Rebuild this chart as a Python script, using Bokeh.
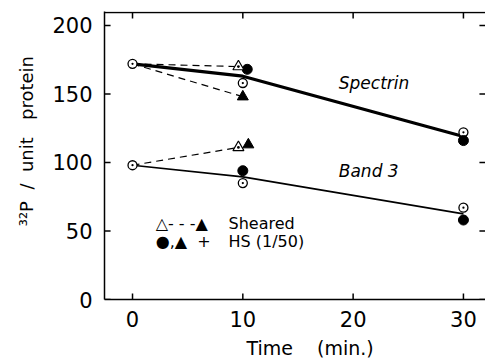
from bokeh.plotting import figure
from bokeh.models import Label, FixedTicker, Range1d
from bokeh.embed import file_html
from bokeh.resources import INLINE

# ---- data ----
time_ctrl = [0, 10, 30]
spectrin_ctrl = [172, 158, 122]          # open circles
spectrin_hs_t = [10.4, 30]
spectrin_hs = [168, 116]                 # filled circles (+ HS)
spectrin_shear_t = [9.6]
spectrin_shear = [170]                   # open triangle (sheared)
spectrin_shear_hs_t = [10.0]
spectrin_shear_hs = [148]                # filled triangle (sheared + HS)

band3_ctrl = [98, 85, 67]
band3_hs_t = [10.0, 30]
band3_hs = [94, 58]
band3_shear_t = [9.6]
band3_shear = [111]
band3_shear_hs_t = [10.5]
band3_shear_hs = [113]

x_ticks = [0, 10, 20, 30]
y_ticks = [0, 50, 100, 150, 200]

# fitted lines: start value, then mean of control and HS at 10 and 30 min
spectrin_line = [spectrin_ctrl[0]] + [(a + b) / 2 for a, b in zip(spectrin_ctrl[1:], spectrin_hs)]
band3_line = [band3_ctrl[0]] + [(a + b) / 2 for a, b in zip(band3_ctrl[1:], band3_hs)]

FONT = "DejaVu Sans"
NB = "\u00a0"

X0, X1 = -2.54, 32.0          # plot box, left / right (data units)
Y0, Y_TOP, Y1 = 0.0, 209.4, 210.2   # bottom, top edge of the box, range end
TX, TY = 0.55, 4.4            # inward tick length in data units (~6 px)

p = figure(width=485, height=361, output_backend="svg", toolbar_location=None, title=None,
           x_range=Range1d(X0, X1), y_range=Range1d(Y0, Y1),
           min_border_left=104, min_border_right=0, min_border_top=11, min_border_bottom=60)
p.outline_line_color = None
p.grid.visible = False

for ax in (p.xaxis[0], p.yaxis[0]):
    ax.major_tick_in = 0
    ax.major_tick_out = 0
    ax.minor_tick_line_color = None
    ax.axis_line_width = 1.5
    ax.axis_line_color = "black"
    ax.major_label_text_font = FONT
    ax.major_label_text_font_size = "21px"
    ax.major_label_text_color = "black"
    ax.axis_label_text_font = FONT
    ax.axis_label_text_font_style = "normal"
    ax.axis_label_text_color = "black"
p.xaxis[0].ticker = FixedTicker(ticks=x_ticks)
p.yaxis[0].ticker = FixedTicker(ticks=y_ticks)
p.xaxis[0].major_label_standoff = 11
p.yaxis[0].major_label_standoff = 12

# axis titles (leading spaces shift the centred text to where the reference has it)
p.xaxis[0].axis_label = NB * 5 + "Time" + NB * 4 + "(min.)"
p.xaxis[0].axis_label_text_font_size = "19px"
p.xaxis[0].axis_label_standoff = 7
p.yaxis[0].axis_label = (NB * 5 + "\u00b3\u00b2P" + NB * 2 + "/" + NB * 2 + "unit"
                         + NB * 3 + "protein")
p.yaxis[0].axis_label_text_font_size = "18px"
p.yaxis[0].axis_label_standoff = 12

# box: top edge and inward ticks on all four sides
p.line([X0, X1], [Y_TOP, Y_TOP], line_width=1.5, color="black")
p.segment(x0=x_ticks, y0=[Y0] * len(x_ticks), x1=x_ticks, y1=[Y0 + TY] * len(x_ticks),
          line_width=1.5, color="black")
p.segment(x0=x_ticks, y0=[Y_TOP] * len(x_ticks), x1=x_ticks, y1=[Y_TOP - TY] * len(x_ticks),
          line_width=1.5, color="black")
p.segment(x0=[X0] * len(y_ticks), y0=y_ticks, x1=[X0 + TX] * len(y_ticks), y1=y_ticks,
          line_width=1.5, color="black")
p.segment(x0=[X1] * len(y_ticks), y0=y_ticks, x1=[X1 - TX] * len(y_ticks), y1=y_ticks,
          line_width=1.5, color="black")

# dashed lines to sheared points
p.line([time_ctrl[0], spectrin_shear_t[0]], [spectrin_ctrl[0], spectrin_shear[0]],
       line_dash="7 5", line_width=1.2, color="black")
p.line([time_ctrl[0], spectrin_shear_hs_t[0]], [spectrin_ctrl[0], spectrin_shear_hs[0]],
       line_dash="7 5", line_width=1.2, color="black")
p.line([time_ctrl[0], band3_shear_t[0]], [band3_ctrl[0], band3_shear[0]],
       line_dash="7 5", line_width=1.2, color="black")

# solid lines
p.line(time_ctrl, spectrin_line, line_width=3.2, color="black")
p.line(time_ctrl, band3_line, line_width=1.6, color="black")

# markers
for xs, ys in ((time_ctrl, spectrin_ctrl), (time_ctrl, band3_ctrl)):
    p.scatter(xs, ys, marker="circle_dot", size=9, fill_color="white",
              line_color="black", line_width=1.3)
for xs, ys in ((spectrin_hs_t, spectrin_hs), (band3_hs_t, band3_hs)):
    p.scatter(xs, ys, marker="circle", size=10, fill_color="black", line_color="black")
for xs, ys in ((spectrin_shear_t, spectrin_shear), (band3_shear_t, band3_shear)):
    p.scatter(xs, ys, marker="triangle_dot", size=11, fill_color="white",
              line_color="black", line_width=1.2)
for xs, ys in ((spectrin_shear_hs_t, spectrin_shear_hs), (band3_shear_hs_t, band3_shear_hs)):
    p.scatter(xs, ys, marker="triangle", size=11, fill_color="black", line_color="black")

# series labels
p.add_layout(Label(x=18.7, y=158, text="Spectrin", text_font=FONT, text_font_size="17px",
                   text_font_style="italic", text_baseline="middle", text_align="left",
                   text_color="black"))
p.add_layout(Label(x=18.7, y=93.5, text="Band 3", text_font=FONT, text_font_size="17px",
                   text_font_style="italic", text_baseline="middle", text_align="left",
                   text_color="black"))

# legend (text symbols)
p.add_layout(Label(x=2.1, y=55.8, text="\u25b3- - -\u25b2", text_font=FONT, text_font_size="16px",
                   text_baseline="middle", text_align="left", text_color="black"))
p.add_layout(Label(x=8.7, y=55.8, text="Sheared", text_font=FONT, text_font_size="16px",
                   text_baseline="middle", text_align="left", text_color="black"))
p.add_layout(Label(x=2.1, y=42, text="\u25cf,\u25b2" + NB * 2 + "+", text_font=FONT,
                   text_font_size="16px", text_baseline="middle", text_align="left",
                   text_color="black"))
p.add_layout(Label(x=8.7, y=42, text="HS" + NB + "(1/50)", text_font=FONT, text_font_size="16px",
                   text_baseline="middle", text_align="left", text_color="black"))

open("out.html", "w").write(file_html(p, INLINE))
